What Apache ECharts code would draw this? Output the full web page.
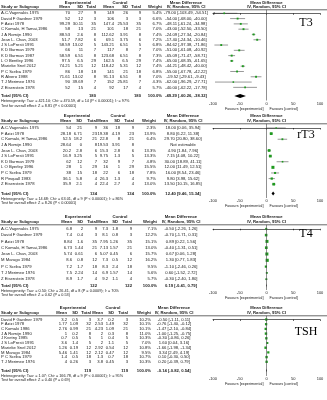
<!DOCTYPE html>
<html>
<head>
<meta charset="utf-8">
<script src="https://cdn.jsdelivr.net/npm/echarts@6/dist/echarts.min.js"></script>
<style>
html, body { margin: 0; padding: 0; background: #fff; }
#chart { width: 327px; height: 400px; }
</style>
</head>
<body>
<div id="chart"></div>
<script>
// ---- T3 ----
const t3Study = ['A.C.Vagenakis 1975', 'David F Gardner 1979', 'F Azizi 1978', 'C Komaki, H Tamai,1986', 'J A Romijn 1990', 'Jean L. Chan, 2003', 'J S LoPresti 1991', 'K D Burman 1979', 'K D Burman 1987', 'L O Bentley 1996', 'Marieke Snel 2012', 'P C Scriba 1979', 'R Alvero 1988', 'T J Merimee 1976', 'Z Eisenstein 1978']
const t3ExpMean = [70, 52, 99.29, 58, 88.53, 51.7, 58.59, 66, 58.59, 97.5, 74.21, 86, 71.61, 90, 52]
const t3ExpSD = [27, 12, 30.11, 13, 2.6, 7.82, 13.02, 11, 6.51, 6.5, 5.21, 18, 13.02, 39.69, 15]
const t3ExpN = [9, 3, 35, 21, 8, 6, 5, 7, 8, 29, 12, 18, 8, 7, 4]
const t3CtlMean = [149, 106, 147.4, 101, 112.62, 69.1, 143.21, 117, 123.68, 162.5, 118.42, 141, 91.13, 152, 92]
const t3CtlSD = [26, 3, 25.53, 18, 3.91, 3.75, 6.51, 8, 6.51, 6.5, 5.31, 21, 6.51, 25.81, 17]
const t3CtlN = [9, 3, 35, 21, 8, 6, 5, 7, 8, 29, 12, 18, 8, 7, 4]
const t3Weight = [5.4, 6.6, 6.7, 7.0, 7.4, 7.2, 6.8, 7.0, 7.3, 7.4, 7.4, 6.8, 7.0, 4.3, 5.7]
const t3MD = [-79, -54, -48.11, -43, -24.09, -17.4, -84.62, -51, -65.09, -65, -44.21, -55, -19.52, -62, -40]
const t3Lo = [-103.49, -68, -61.24, -52.5, -27.34, -24.34, -97.38, -61.08, -71.47, -68.35, -48.42, -67.78, -29.61, -96.29, -62.22]
const t3Hi = [-54.51, -40, -34.98, -33.5, -20.84, -10.46, -71.86, -40.92, -58.71, -61.65, -40, -42.22, -9.43, -27.71, -17.78]
const t3Total = [180, 180, -49.29, -60.26, -38.32]
const t3Het = 'Heterogeneity: Tau² = 421.10; Chi² = 470.59, df = 14 (P < 0.00001); I² = 97%'
const t3Test = 'Test for overall effect: Z = 8.81 (P < 0.00001)'

// ---- rT3 ----
const rt3Study = ['A.C.Vagenakis 1975', 'F Azizi 1978', 'C Komaki, H Tamai,1986', 'J A Romijn 1990', 'Jean L. Chan, 2003', 'J S LoPresti 1991', 'K D Burman 1979', 'L O Byerley 1996', 'P C Scriba 1979', 'R Pinquall 1983', 'Z Eisenstein 1978']
const rt3ExpMean = [54, 28.18, 52.5, 28.64, 20.2, 16.9, 62, 28, 38, 36.1, 35.9]
const rt3ExpSD = [21, 6.71, 18.2, 0, 2.8, 3.25, 12, 1, 15, 5.8, 2.1]
const rt3ExpN = [9, 23, 21, 8, 6, 5, 7, 29, 18, 4, 4]
const rt3CtlMean = [36, 19.38, 22.8, 19.53, 15.3, 9.75, 32, 16, 22, 26.3, 22.4]
const rt3CtlSD = [18, 4.19, 8, 3.91, 2.8, 1.3, 9, 1, 6, 1.3, 2.7]
const rt3CtlN = [9, 23, 21, 8, 6, 5, 7, 29, 18, 4, 4]
const rt3Weight = [2.3, 13.9, 6.4, null, 13.3, 13.3, 4.8, 15.5, 7.8, 9.7, 13.0]
const rt3MD = [18, 8.8, 29.7, null, 4.9, 7.15, 30, 12, 16, 9.8, 13.5]
const rt3Lo = [0.06, 6.22, 20.8, null, 1.84, 4.08, 18.89, 11.49, 8.54, 3.98, 10.15]
const rt3Hi = [35.94, 11.38, 38.6, null, 7.96, 10.22, 41.11, 12.51, 23.46, 15.62, 16.85]
const rt3Total = [134, 134, 12.40, 9.46, 15.34]
const rt3Het = 'Heterogeneity: Tau² = 14.68; Chi² = 63.01, df = 9 (P < 0.00001); I² = 86%'
const rt3Test = 'Test for overall effect: Z = 8.26 (P < 0.00001)'

// ---- T4 ----
const t4Study = ['A.C.Vagenakis 1975', 'David F Gardner 1979', 'F Azizi 1978', 'C Komaki, H Tamai,1986', 'Jean L. Chan, 2003', 'M Marugo 1984', 'P C Scriba 1979', 'T J Merimee 1976', 'Z Eisenstein 1978']
const t4ExpMean = [6.8, 7.4, 8.84, 6.73, 5.74, 8.6, 7.2, 7.5, 8.9]
const t4ExpSD = [2, 0.4, 1.6, 1.44, 0.61, 0.8, 1.7, 2.24, 1.7]
const t4ExpN = [9, 3, 35, 21, 6, 12, 18, 14, 4]
const t4CtlMean = [7.3, 8.1, 7.95, 7.13, 5.07, 7.3, 8.3, 6.9, 9.2]
const t4CtlSD = [1.8, 0.8, 1.26, 1.57, 0.45, 0.5, 2.4, 1.57, 1.1]
const t4CtlN = [9, 3, 35, 21, 6, 12, 18, 14, 4]
const t4Weight = [7.1, 12.2, 15.1, 13.0, 15.7, 16.2, 9.5, 5.6, 5.7]
const t4MD = [-0.5, -0.7, 0.89, -0.4, 0.67, 1.3, -1.1, 0.6, -0.3]
const t4Lo = [-2.26, -1.71, 0.22, -1.31, 0.06, 0.77, -2.46, -1.52, -2.4]
const t4Hi = [1.26, 0.31, 1.56, 0.51, 1.28, 1.83, 0.26, 2.72, 1.8]
const t4Total = [122, 122, 0.19, -0.41, 0.79]
const t4Het = 'Heterogeneity: Tau² = 0.50; Chi² = 26.41, df = 8 (P = 0.0009); I² = 70%'
const t4Test = 'Test for overall effect: Z = 0.62 (P = 0.53)'

// ---- TSH ----
const tshStudy = ['David F Gardner 1979', 'F Azizi 1978', 'C Komaki 1986', 'J A Romijn 1990', 'J Kvetny 1985', 'J S LoPresti 1991', 'Marieke Snel 2012', 'M Marugo 1984', 'P C Scriba 1979', 'T J Merimee 1976']
const tshExpMean = [3.2, 1.77, 2.76, 1, 0.7, 3.6, 1.26, 5.46, 1.4, 4]
const tshExpSD = [0.5, 1.09, 0.99, 0.2, 0.5, 1.4, 0.19, 1.41, 0.5, 0.26]
const tshExpN = [3, 32, 21, 8, 5, 5, 12, 12, 18, 3]
const tshCtlMean = [3.7, 2.53, 4.23, 2, 1, 2, 2.92, 2.12, 1.3, 3.8]
const tshCtlSD = [0.2, 1.49, 1.09, 0.3, 0.4, 1.1, 0.54, 0.47, 0.7, 0.45]
const tshCtlN = [3, 32, 21, 8, 5, 5, 12, 12, 18, 3]
const tshWeight = [10.2, 10.1, 10.1, 11.0, 10.3, 7.0, 10.8, 9.5, 10.7, 10.3]
const tshMD = [-0.5, -0.76, -1.47, -1, -0.3, 1.6, -1.66, 3.34, 0.1, 0.2]
const tshLo = [-1.11, -1.4, -2.1, -1.25, -0.86, 0.04, -1.98, 2.49, -0.3, -0.39]
const tshHi = [0.11, -0.12, -0.84, -0.75, 0.26, 3.16, -1.34, 4.19, 0.5, 0.79]
const tshTotal = [119, 119, -0.14, -0.82, 0.54]
const tshHet = 'Heterogeneity: Tau² = 1.07; Chi² = 166.78, df = 9 (P < 0.00001); I² = 95%'
const tshTest = 'Test for overall effect: Z = 0.40 (P = 0.69)'

const axisTicks = [-100, -50, 0, 50, 100]

const FONT = '"Liberation Sans", Arial, sans-serif'
const INK = '#1a1a1a'

// page layout of the four stacked panels (pixels)
const panels = [
    { tag: 'T3', tagY: 23, h1: 2.5, h2: 7.3, line: 9.8, row0: 13.3, dy: 5.29, total: 96, het: 101.3, test: 105.8, axis: 100.5,
      cols: [1, 70, 83, 96, 114, 128, 141, 162, 186], expC: 78, ctlC: 120,
      study: t3Study, em: t3ExpMean, esd: t3ExpSD, en: t3ExpN, cm: t3CtlMean, csd: t3CtlSD, cn: t3CtlN,
      w: t3Weight, md: t3MD, lo: t3Lo, hi: t3Hi, tot: t3Total, hetText: t3Het, testText: t3Test },
    { tag: 'rT3', tagY: 135, h1: 115.5, h2: 121.3, line: 123.8, row0: 128, dy: 5.62, total: 193.5, het: 198.8, test: 203.3, axis: 198,
      cols: [1, 71, 82, 97, 108, 120, 134, 156, 183], expC: 77, ctlC: 118,
      study: rt3Study, em: rt3ExpMean, esd: rt3ExpSD, en: rt3ExpN, cm: rt3CtlMean, csd: rt3CtlSD, cn: rt3CtlN,
      w: rt3Weight, md: rt3MD, lo: rt3Lo, hi: rt3Hi, tot: rt3Total, hetText: rt3Het, testText: rt3Test },
    { tag: 'T4', tagY: 234, h1: 216.5, h2: 222.3, line: 224.8, row0: 228.8, dy: 6.3, total: 285.5, het: 290.5, test: 295, axis: 290,
      cols: [1, 72, 83, 97, 108, 118, 132, 157, 181], expC: 78, ctlC: 120,
      study: t4Study, em: t4ExpMean, esd: t4ExpSD, en: t4ExpN, cm: t4CtlMean, csd: t4CtlSD, cn: t4CtlN,
      w: t4Weight, md: t4MD, lo: t4Lo, hi: t4Hi, tot: t4Total, hetText: t4Het, testText: t4Test },
    { tag: 'TSH', tagY: 332, h1: 307.5, h2: 313.3, line: 315.8, row0: 319.5, dy: 4.7, total: 370.5, het: 375.5, test: 380, axis: 376,
      cols: [1, 67, 78, 91, 103, 114, 128, 151, 174], expC: 73, ctlC: 113,
      study: tshStudy, em: tshExpMean, esd: tshExpSD, en: tshExpN, cm: tshCtlMean, csd: tshCtlSD, cn: tshCtlN,
      w: tshWeight, md: tshMD, lo: tshLo, hi: tshHi, tot: tshTotal, hetText: tshHet, testText: tshTest }
]

const PLOT_L = 213, PLOT_R = 320

function txt(x, y, s, size, align, bold) {
    return {
        type: 'text', x: x, y: y, silent: true,
        style: {
            text: s, font: (bold ? 'bold ' : '') + size + 'px ' + FONT, fill: INK,
            align: align || 'left', verticalAlign: 'middle',
            textAlign: align || 'left', textVerticalAlign: 'middle'
        }
    }
}

function ci(md, lo, hi) {
    return md.toFixed(2) + ' [' + lo.toFixed(2) + ', ' + hi.toFixed(2) + ']'
}

const grid = [], xAxis = [], yAxis = [], series = [], graphic = []

panels.forEach((p, k) => {
    const n = p.study.length
    const totalRow = (p.total - p.row0) / p.dy
    grid.push({ left: PLOT_L, width: PLOT_R - PLOT_L, top: p.line, height: p.axis - p.line })
    xAxis.push({
        gridIndex: k, type: 'value', min: -100, max: 100, interval: 50,
        axisLine: { lineStyle: { color: '#000', width: 0.6 } },
        axisTick: { length: 1.5, lineStyle: { color: '#000', width: 0.6 } },
        axisLabel: { fontSize: 4.0, margin: 1.3, color: INK, fontFamily: FONT, formatter: v => axisTicks.includes(v) ? String(v) : '' },
        splitLine: { show: false }
    })
    yAxis.push({
        gridIndex: k, type: 'value', inverse: true, show: false,
        min: -(p.row0 - p.line) / p.dy, max: (p.axis - p.row0) / p.dy
    })

    // table text, one row per study + total row
    series.push({
        type: 'custom', xAxisIndex: k, yAxisIndex: k, silent: true,
        data: p.study.map((s, i) => [0, i]).concat([[0, totalRow]]),
        renderItem: (params, api) => {
            const i = params.dataIndex
            const y = api.coord([0, api.value(1)])[1]
            const c = p.cols
            const fs = 4.2
            if (i === n) {
                return { type: 'group', children: [
                    txt(c[0], y, 'Total (95% CI)', fs, 'left', true),
                    txt(c[3], y, String(p.tot[0]), fs, 'right', true),
                    txt(c[6], y, String(p.tot[1]), fs, 'right', true),
                    txt(c[7], y, '100.0%', fs, 'right', true),
                    txt(c[8], y, ci(p.tot[2], p.tot[3], p.tot[4]), fs, 'center', true)
                ] }
            }
            return { type: 'group', children: [
                txt(c[0], y, p.study[i], fs, 'left'),
                txt(c[1], y, String(p.em[i]), fs, 'right'),
                txt(c[2], y, String(p.esd[i]), fs, 'right'),
                txt(c[3], y, String(p.en[i]), fs, 'right'),
                txt(c[4], y, String(p.cm[i]), fs, 'right'),
                txt(c[5], y, String(p.csd[i]), fs, 'right'),
                txt(c[6], y, String(p.cn[i]), fs, 'right'),
                txt(c[7], y, p.w[i] == null ? '' : p.w[i].toFixed(1) + '%', fs, 'right'),
                txt(c[8], y, p.md[i] == null ? 'Not estimable' : ci(p.md[i], p.lo[i], p.hi[i]), fs, 'center')
            ] }
        }
    })

    // study estimates: CI line + weighted square
    const pts = []
    p.study.forEach((s, i) => { if (p.md[i] != null) pts.push([p.md[i], p.lo[i], p.hi[i], i, p.w[i]]) })
    series.push({
        type: 'custom', xAxisIndex: k, yAxisIndex: k, silent: true, clip: false,
        data: pts,
        renderItem: (params, api) => {
            const row = api.value(3)
            const lo = api.value(1), hi = api.value(2)
            const a = api.coord([Math.max(lo, -100), row])
            const b = api.coord([Math.min(hi, 100), row])
            const m = api.coord([api.value(0), row])
            const sz = 1.0 + api.value(4) * 0.13
            const kids = [
                { type: 'line', shape: { x1: a[0], y1: a[1], x2: b[0], y2: b[1] }, style: { stroke: '#333', lineWidth: 0.5 } },
                { type: 'rect', shape: { x: m[0] - sz / 2, y: m[1] - sz / 2, width: sz, height: sz }, style: { fill: '#1f9a1f' } }
            ]
            if (lo < -100) kids.push({ type: 'polygon', shape: { points: [[a[0] - 0.5, a[1]], [a[0] + 1.8, a[1] - 1.1], [a[0] + 1.8, a[1] + 1.1]] }, style: { fill: '#333' } })
            if (hi > 100) kids.push({ type: 'polygon', shape: { points: [[b[0] + 0.5, b[1]], [b[0] - 1.8, b[1] - 1.1], [b[0] - 1.8, b[1] + 1.1]] }, style: { fill: '#333' } })
            return { type: 'group', children: kids }
        },
        markLine: {
            silent: true, symbol: 'none', label: { show: false },
            lineStyle: { color: '#444', width: 0.6, type: 'solid' },
            data: [{ xAxis: 0 }]
        }
    })

    // pooled diamond
    series.push({
        type: 'custom', xAxisIndex: k, yAxisIndex: k, silent: true,
        data: [[p.tot[2], p.tot[3], p.tot[4], totalRow]],
        renderItem: (params, api) => {
            const row = api.value(3)
            const m = api.coord([api.value(0), row])
            const a = api.coord([api.value(1), row])
            const b = api.coord([api.value(2), row])
            const h = 2
            return { type: 'polygon', shape: { points: [[a[0], m[1]], [m[0], m[1] - h], [b[0], m[1]], [m[0], m[1] + h]] }, style: { fill: '#000' } }
        }
    })

    // headers, separators, footnotes
    const c = p.cols
    const hf = 4.2
    graphic.push(
        txt(p.expC, p.h1, 'Experimental', hf, 'center', true),
        txt(p.ctlC, p.h1, 'Control', hf, 'center', true),
        txt(c[8], p.h1, 'Mean Difference', hf, 'center', true),
        txt(266.5, p.h1, 'Mean Difference', hf, 'center', true),
        txt(c[0], p.h2, 'Study or Subgroup', hf, 'left', true),
        txt(c[1], p.h2, 'Mean', hf, 'right', true),
        txt(c[2], p.h2, 'SD', hf, 'right', true),
        txt(c[3], p.h2, 'Total', hf, 'right', true),
        txt(c[4], p.h2, 'Mean', hf, 'right', true),
        txt(c[5], p.h2, 'SD', hf, 'right', true),
        txt(c[6], p.h2, 'Total', hf, 'right', true),
        txt(c[7], p.h2, 'Weight', hf, 'right', true),
        txt(c[8], p.h2, 'IV, Random, 95% CI', hf, 'center', true),
        txt(266.5, p.h2, 'IV, Random, 95% CI', hf, 'center', true),
        { type: 'line', silent: true, shape: { x1: 0, y1: p.line, x2: 327, y2: p.line }, style: { stroke: '#000', lineWidth: 0.6 } },
        txt(c[0], p.het, p.hetText, 3.8, 'left'),
        txt(c[0], p.test, p.testText, 3.8, 'left'),
        txt(263.5, p.axis + 8.3, 'Favours [experimental]', 3.8, 'right'),
        txt(269.5, p.axis + 8.3, 'Favours [control]', 3.8, 'left'),
        {
            type: 'text', x: 306, y: p.tagY, silent: true,
            style: { text: p.tag, font: '12px "Liberation Serif", "Times New Roman", serif', fill: '#000', align: 'center', verticalAlign: 'middle', textAlign: 'center', textVerticalAlign: 'middle' }
        }
    )
})

const myChart = echarts.init(document.getElementById('chart'))
myChart.setOption({
    animation: false,
    backgroundColor: '#fff',
    grid: grid,
    xAxis: xAxis,
    yAxis: yAxis,
    series: series,
    graphic: { elements: graphic }
})
window.addEventListener('resize', function () {
    myChart.resize()
})
</script>
</body>
</html>
